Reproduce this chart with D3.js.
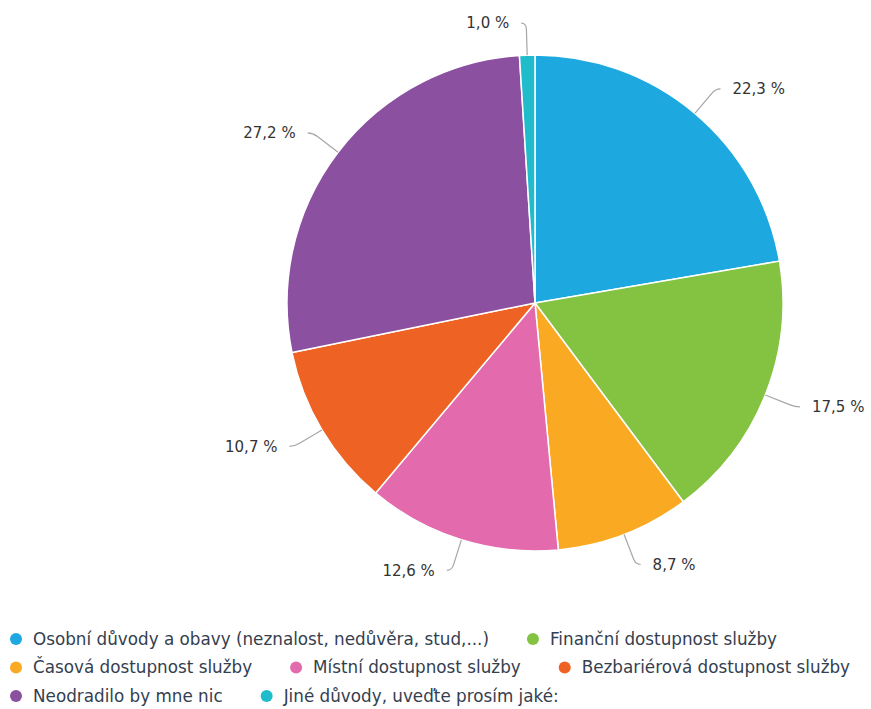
<!DOCTYPE html>
<html>
<head>
<meta charset="utf-8">
<script src="https://cdn.jsdelivr.net/npm/d3@7"></script>
<style>
body { margin: 0; background: #fff; }
text { font-family: "DejaVu Sans", sans-serif; }
</style>
</head>
<body>
<div id="chart"></div>
<script>
let width = 871,
height = 709;

let categories = [
  "Osobní důvody a obavy (neznalost, nedůvěra, stud,...)",
  "Finanční dostupnost služby",
  "Časová dostupnost služby",
  "Místní dostupnost služby",
  "Bezbariérová dostupnost služby",
  "Neodradilo by mne nic",
  "Jiné důvody, uveďte prosím jaké:"
];
let values = [22.3, 17.5, 8.7, 12.6, 10.7, 27.2, 1.0];
let colors = ["#1ea8e0", "#84c341", "#faa922", "#e36aad", "#ee6323", "#8b51a0", "#21bccb"];
let legendRows = [[0, 1], [2, 3, 4], [5, 6]];

let data = categories.map((c, i) => ({ name: c, value: values[i], color: colors[i] }));

let cx = 535, cy = 303, r = 248;

let svg = d3.select("#chart")
.append("svg")
.attr("width", width)
.attr("height", height);

let pie = d3.pie()
.sort(null)
.value(d => d.value);

let arc = d3.arc()
.innerRadius(0)
.outerRadius(r);

let arcs = pie(data);

let g = svg.append("g").attr("transform", "translate(" + cx + "," + cy + ")");

g.selectAll("path.slice")
.data(arcs)
.enter().append("path")
.classed("slice", true)
.attr("d", arc)
.attr("fill", d => d.data.color)
.attr("stroke", "#fff")
.attr("stroke-width", 1.5)
.attr("stroke-linejoin", "round");

let fmt = v => d3.format(".1f")(v).replace(".", ",") + " %";

// connectors + labels
arcs.forEach(d => {
  let a = (d.startAngle + d.endAngle) / 2;
  let s = Math.sin(a), c = -Math.cos(a);
  let right = s >= 0 && a < Math.PI * 1.9;
  let p0 = [s * r, c * r];
  let p1 = [s * (r + 32), c * (r + 32)];
  let dir = right ? 1 : -1;
  let p2 = [p1[0] + dir * 5, p1[1]];
  g.append("path")
  .attr("d", "M" + p0 + "L" + [s * (r + 26), c * (r + 26)] + "Q" + p1 + " " + p2)
  .attr("fill", "none")
  .attr("stroke", "#a6a6a6")
  .attr("stroke-width", 1.2);
  g.append("text")
  .attr("x", p2[0] + dir * 12)
  .attr("y", p2[1])
  .attr("dy", "0.35em")
  .attr("text-anchor", right ? "start" : "end")
  .attr("font-size", 15)
  .attr("fill", "#333")
  .text(fmt(d.data.value));
});

// legend
let legend = svg.append("g");
let rowH = 28.5, gap = 44;
legendRows.forEach((row, ri) => {
  let lx = 16, ly = 639 + ri * rowH;
  row.forEach(i => {
    let d = data[i];
    let item = legend.append("g")
    .attr("transform", "translate(" + lx + "," + ly + ")");
    item.append("circle")
    .attr("r", 6)
    .attr("fill", d.color);
    let t = item.append("text")
    .attr("x", 17)
    .attr("dy", "0.35em")
    .attr("font-size", 16.8)
    .attr("fill", "#34404f")
    .text(d.name);
    lx += 17 + t.node().getComputedTextLength() + gap;
  });
});
</script>
</body>
</html>
